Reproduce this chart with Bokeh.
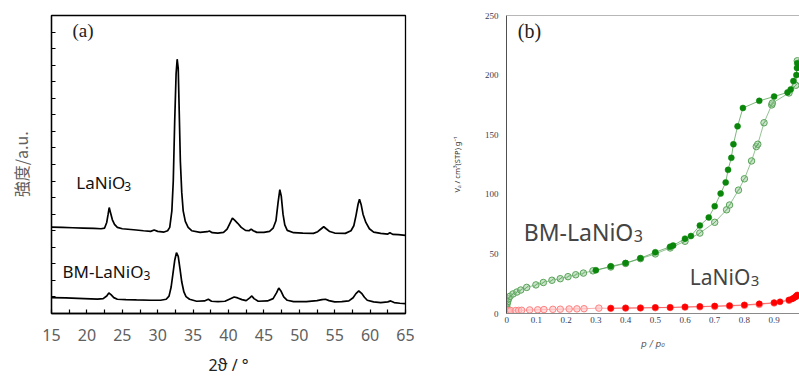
from bokeh.plotting import figure
from bokeh.layouts import row
from bokeh.models import Range1d, FixedTicker, Label, Span, CustomJSTickFormatter
from bokeh.embed import file_html
from bokeh.resources import INLINE

# ---------------- (a) XRD data ----------------
XRD_2THETA_LANIO3 = [15.0, 16.5, 18.0, 19.5, 21.0, 22.0, 22.5, 22.8, 23.0, 23.15, 23.3, 23.6, 23.9, 24.3,
                     25.0, 26.6, 28.0, 29.0, 29.5, 30.0, 30.9, 31.4, 31.7, 32.0, 32.2, 32.4, 32.6, 32.75,
                     32.9, 33.05, 33.2, 33.4, 33.6, 33.9, 34.3, 34.8, 36.0, 37.0, 37.3, 37.7, 38.5, 39.3,
                     39.8, 40.2, 40.55, 40.9, 41.3, 41.8, 42.4, 42.9, 43.2, 43.5, 44.0, 45.0, 45.8, 46.3,
                     46.7, 47.0, 47.25, 47.45, 47.7, 47.95, 48.3, 49.2, 50.5, 52.0, 52.6, 53.1, 53.45,
                     53.8, 54.3, 55.0, 56.5, 57.3, 57.7, 58.0, 58.3, 58.5, 58.75, 59.0, 59.4, 59.9, 60.5,
                     61.5, 62.5, 62.8, 63.2, 64.0, 65.0]
XRD_INT_LANIO3 = [5.22, 5.20, 5.18, 5.16, 5.14, 5.12, 5.16, 5.5, 6.0, 6.4, 6.15, 5.66, 5.38, 5.2,
                  5.12, 5.06, 5.0, 4.96, 5.04, 4.96, 4.92, 5.0, 5.2, 6.2, 8.0, 11.6, 14.5, 15.36,
                  14.8, 12.0, 9.2, 7.3, 6.2, 5.56, 5.2, 5.0, 4.9, 4.94, 4.98, 4.88, 4.86, 4.9,
                  5.1, 5.45, 5.76, 5.62, 5.45, 5.2, 5.02, 5.0, 5.1, 5.0, 4.9, 4.9, 4.96, 5.15,
                  5.6, 6.7, 7.48, 7.1, 6.0, 5.35, 5.02, 4.88, 4.86, 4.84, 4.94, 5.12, 5.24,
                  5.12, 4.95, 4.86, 4.84, 5.0, 5.3, 5.9, 6.6, 6.9, 6.55, 6.0, 5.5, 5.12, 4.92,
                  4.84, 4.8, 4.88, 4.78, 4.76, 4.72]

XRD_2THETA_BM = [15.0, 17.0, 19.6, 21.5, 22.3, 22.8, 23.1, 23.4, 23.8, 24.3, 25.5, 27.0, 29.0, 30.4,
                 31.2, 31.6, 31.9, 32.15, 32.4, 32.65, 32.9, 33.15, 33.4, 33.7, 34.0, 34.5, 35.5,
                 36.6, 37.15, 37.6, 38.5, 39.5, 40.2, 40.8, 41.3, 41.9, 42.5, 43.0, 43.3, 43.6,
                 44.2, 45.5, 46.3, 46.8, 47.1, 47.4, 47.8, 48.3, 49.2, 51.0, 52.5, 53.2, 53.7,
                 54.2, 55.0, 56.0, 57.0, 57.6, 58.0, 58.4, 58.8, 59.2, 59.6, 60.5, 61.5, 62.5,
                 62.9, 63.4, 64.2, 65.0]
XRD_INT_BM = [0.96, 0.94, 0.9, 0.87, 0.9, 1.06, 1.24, 1.14, 0.96, 0.86, 0.84, 0.82, 0.8, 0.8,
              0.86, 1.05, 1.6, 2.4, 3.2, 3.68, 3.45, 2.7, 1.9, 1.3, 1.02, 0.86, 0.74,
              0.76, 0.86, 0.74, 0.72, 0.74, 0.88, 1.0, 0.94, 0.84, 0.78, 0.94, 1.06, 0.9,
              0.74, 0.76, 0.9, 1.26, 1.54, 1.36, 1.0, 0.8, 0.72, 0.72, 0.78, 0.84, 0.86,
              0.78, 0.7, 0.72, 0.76, 0.95, 1.2, 1.36, 1.22, 0.98, 0.8, 0.7, 0.66, 0.7,
              0.76, 0.66, 0.62, 0.6]

XRD_X_TICKS = [15, 20, 25, 30, 35, 40, 45, 50, 55, 60, 65]
XRD_X_MINOR = [17.5, 22.5, 27.5, 32.5, 37.5, 42.5, 47.5, 52.5, 57.5, 62.5]
XRD_Y_TICKS = list(range(1, 19))

# ---------------- (b) N2 isotherm data ----------------
BM_ADS_P = [0.0, 0.0, 0.001, 0.003, 0.006, 0.011, 0.021, 0.034, 0.047, 0.067, 0.098, 0.123, 0.152,
            0.18, 0.206, 0.232, 0.258, 0.29, 0.35, 0.4, 0.45, 0.5, 0.55, 0.6, 0.65, 0.7, 0.74,
            0.75, 0.78, 0.8, 0.824, 0.84, 0.845, 0.866, 0.892, 0.894, 0.95, 0.973, 0.978]
BM_ADS_V = [2.5, 5.5, 8.0, 10.0, 12.3, 14.5, 16.4, 18.0, 19.7, 21.9, 24.0, 26.0, 27.9,
            29.2, 30.9, 32.5, 33.9, 35.8, 39.0, 42.0, 46.0, 50.0, 55.0, 60.6, 67.5, 76.5, 87.0,
            91.0, 103.5, 113.0, 128.0, 140.0, 142.0, 160.0, 175.0, 176.5, 185.0, 191.5, 212.0]
BM_DES_P = [0.978, 0.977, 0.975, 0.965, 0.956, 0.945, 0.9, 0.85, 0.795, 0.777, 0.763, 0.756, 0.745,
            0.737, 0.72, 0.7, 0.68, 0.65, 0.62, 0.6, 0.56, 0.55, 0.5, 0.45, 0.4, 0.35, 0.3]
BM_DES_V = [210.0, 206.0, 200.0, 195.0, 188.0, 185.5, 182.0, 178.4, 172.4, 157.0, 142.0, 130.6, 120.5,
            110.0, 100.6, 90.0, 80.6, 73.8, 65.0, 62.8, 57.0, 56.0, 51.4, 46.4, 42.3, 39.6, 36.3]

LA_ADS_P = [0.0, 0.0, 0.001, 0.003, 0.006, 0.013, 0.03, 0.04, 0.05, 0.077, 0.104, 0.125, 0.155,
            0.18, 0.21, 0.236, 0.26, 0.31, 0.35, 0.4, 0.45, 0.5, 0.55, 0.6, 0.65, 0.7, 0.75,
            0.8, 0.85, 0.9, 0.95, 0.975]
LA_ADS_V = [0.5, 1.0, 1.5, 2.0, 2.3, 2.5, 2.5, 2.6, 2.7, 3.0, 3.1, 3.3, 3.5,
            3.6, 3.8, 3.9, 4.0, 4.5, 4.3, 4.5, 4.6, 4.8, 5.0, 5.3, 5.6, 5.9, 6.3,
            6.8, 7.6, 8.8, 11.0, 14.5]
LA_DES_P = [0.978, 0.975, 0.97, 0.965, 0.96, 0.95, 0.92, 0.9, 0.85, 0.8, 0.75, 0.7, 0.65, 0.6,
            0.55, 0.5, 0.45, 0.4, 0.35]
LA_DES_V = [15.6, 14.5, 13.7, 12.8, 12.2, 11.3, 9.8, 9.0, 8.1, 7.2, 6.6, 6.2, 5.8, 5.5,
            5.1, 5.0, 4.7, 4.6, 4.4]

ISO_X_TICKS = [0, 0.1, 0.2, 0.3, 0.4, 0.5, 0.6, 0.7, 0.8, 0.9]
ISO_X_LABELS = ["0", "0.1", "0.2", "0.3", "0.4", "0.5", "0.6", "0.7", "0.8", "0.9"]
ISO_Y_TICKS = [0, 50, 100, 150, 200, 250]

# ================= panel (a) =================
pa = figure(width=430, height=378, output_backend="svg", toolbar_location=None,
            x_range=Range1d(15, 65), y_range=Range1d(0, 18),
            min_border_left=51, min_border_right=25, min_border_top=15, min_border_bottom=62)
pa.grid.visible = False
pa.outline_line_color = "black"
pa.outline_line_width = 1.3
pa.outline_line_alpha = 1.0

pa.line(XRD_2THETA_LANIO3, XRD_INT_LANIO3, line_color="black", line_width=1.7)
pa.line(XRD_2THETA_BM, XRD_INT_BM, line_color="black", line_width=1.7)

xa = pa.xaxis[0]
xa.ticker = FixedTicker(ticks=XRD_X_TICKS, minor_ticks=XRD_X_MINOR)
xa.major_tick_in = 4
xa.major_tick_out = 0
xa.minor_tick_in = 4
xa.minor_tick_out = 0
xa.axis_line_color = "black"
xa.axis_line_width = 1.3
xa.major_tick_line_width = 1.2
xa.minor_tick_line_width = 1.2
xa.major_label_text_font = "Noto Sans"
xa.major_label_text_font_size = "16px"
xa.major_label_text_color = "#606060"
xa.major_label_standoff = 15
xa.axis_label = "2ϑ / °"
xa.axis_label_text_font = "Noto Sans"
xa.axis_label_text_font_size = "16px"
xa.axis_label_text_font_style = "normal"
xa.axis_label_text_color = "#222222"
xa.axis_label_standoff = 10

ya = pa.yaxis[0]
ya.ticker = FixedTicker(ticks=XRD_Y_TICKS)
ya.formatter = CustomJSTickFormatter(code="return ''")
ya.major_tick_in = 4
ya.major_tick_out = 0
ya.minor_tick_in = 0
ya.minor_tick_out = 0
ya.axis_line_color = "black"
ya.axis_line_width = 1.3
ya.major_tick_line_width = 1.2
ya.major_label_standoff = 0
ya.axis_label = "強度/a.u."
ya.axis_label_text_font = "Noto Sans CJK JP"
ya.axis_label_text_font_size = "16px"
ya.axis_label_text_font_style = "normal"
ya.axis_label_text_color = "#606060"
ya.axis_label_standoff = 19

pa.add_layout(Label(x=17.97, y=17.12, text="(a)", text_font="Liberation Serif",
                    text_font_size="19px", text_color="#222222", text_baseline="alphabetic"))
pa.add_layout(Label(x=18.5, y=7.91, text="LaNiO", text_font="Noto Sans",
                    text_font_size="17px", text_color="#111111", text_baseline="alphabetic"))
pa.add_layout(Label(x=18.5, y=7.91, x_offset=48, y_offset=-4, text="3", text_font="Noto Sans",
                    text_font_size="12px", text_color="#111111", text_baseline="alphabetic"))
pa.add_layout(Label(x=16.55, y=2.53, text="BM-LaNiO", text_font="Noto Sans",
                    text_font_size="17px", text_color="#111111", text_baseline="alphabetic"))
pa.add_layout(Label(x=16.55, y=2.53, x_offset=81, y_offset=-4, text="3", text_font="Noto Sans",
                    text_font_size="12px", text_color="#111111", text_baseline="alphabetic"))

# ================= panel (b) =================
pb = figure(width=369, height=378, output_backend="svg", toolbar_location=None,
            x_range=Range1d(-0.001, 0.9855), y_range=Range1d(0, 250),
            min_border_left=76, min_border_right=0, min_border_top=12, min_border_bottom=61)
pb.grid.visible = False
pb.outline_line_color = None

# green BM-LaNiO3
pb.line(BM_ADS_P, BM_ADS_V, line_color="#6aaa6a", line_width=0.9, line_alpha=0.8)
pb.line(BM_DES_P, BM_DES_V, line_color="#4a9a4a", line_width=0.9, line_alpha=0.8)
pb.scatter(BM_ADS_P, BM_ADS_V, marker="circle", size=6.5, fill_color="#a8d4a8", fill_alpha=0.6,
           line_color="#5aa35a", line_width=1)
pb.scatter(BM_ADS_P, BM_ADS_V, marker="dash", size=6, angle=0.785, line_color="#5aa35a", line_width=0.8)
pb.scatter(BM_DES_P, BM_DES_V, marker="circle", size=6, fill_color="#0a870a",
           line_color="#0a870a", line_width=0.5)

# red LaNiO3
pb.line(LA_ADS_P, LA_ADS_V, line_color="#ff9a9a", line_width=1.0, line_alpha=0.8)
pb.line(LA_DES_P, LA_DES_V, line_color="#ff4040", line_width=0.9, line_alpha=0.8)
pb.scatter(LA_ADS_P, LA_ADS_V, marker="circle", size=6.5, fill_color="#ffc4c4", fill_alpha=0.6,
           line_color="#ff8080", line_width=1)
pb.scatter(LA_DES_P, LA_DES_V, marker="circle", size=6, fill_color="#ff0000",
           line_color="#ff0000", line_width=0.5)

pb.add_layout(Span(location=250, dimension="width", line_color="#707070", line_width=1))

xb = pb.xaxis[0]
xb.ticker = FixedTicker(ticks=ISO_X_TICKS)
xb.major_label_overrides = {t: l for t, l in zip(ISO_X_TICKS, ISO_X_LABELS)}
xb.major_tick_in = 0
xb.major_tick_out = 0
xb.minor_tick_in = 0
xb.minor_tick_out = 0
xb.axis_line_color = "#8a8a8a"
xb.axis_line_width = 1.2
xb.major_label_text_font = "Liberation Serif"
xb.major_label_text_font_size = "9px"
xb.major_label_text_color = "#3a3a55"
xb.major_label_standoff = 3
xb.axis_label = "p / p₀"
xb.axis_label_text_font = "DejaVu Sans"
xb.axis_label_text_font_size = "9px"
xb.axis_label_text_font_style = "italic"
xb.axis_label_text_color = "#555555"
xb.axis_label_standoff = 13

yb = pb.yaxis[0]
yb.ticker = FixedTicker(ticks=ISO_Y_TICKS)
yb.major_tick_in = 0
yb.major_tick_out = 0
yb.minor_tick_in = 0
yb.minor_tick_out = 0
yb.axis_line_color = "#505050"
yb.axis_line_width = 1
yb.major_label_text_font = "Liberation Serif"
yb.major_label_text_font_size = "9px"
yb.major_label_text_color = "#3a3a55"
yb.major_label_standoff = 8
yb.axis_label = "Vₐ / cm³(STP) g⁻¹"
yb.axis_label_text_font = "Noto Sans"
yb.axis_label_text_font_size = "7.5px"
yb.axis_label_text_font_style = "normal"
yb.axis_label_text_color = "#333333"
yb.axis_label_standoff = 20

pb.add_layout(Label(x=0.037, y=237.0, text="(b)", text_font="Liberation Serif",
                    text_font_size="20px", text_color="#222222", text_baseline="alphabetic"))
pb.add_layout(Label(x=0.057, y=68.7, text="BM-LaNiO", text_font="Noto Sans",
                    text_font_size="23px", text_color="#444444", text_baseline="alphabetic"))
pb.add_layout(Label(x=0.057, y=68.7, x_offset=110, y_offset=-4.5, text="3", text_font="Noto Sans",
                    text_font_size="16px", text_color="#444444", text_baseline="alphabetic"))
pb.add_layout(Label(x=0.616, y=31.0, text="LaNiO", text_font="Noto Sans",
                    text_font_size="21px", text_color="#444444", text_baseline="alphabetic"))
pb.add_layout(Label(x=0.616, y=31.0, x_offset=61, y_offset=-4.5, text="3", text_font="Noto Sans",
                    text_font_size="15px", text_color="#444444", text_baseline="alphabetic"))

layout = row(pa, pb)
open("out.html", "w").write(file_html(layout, INLINE))
